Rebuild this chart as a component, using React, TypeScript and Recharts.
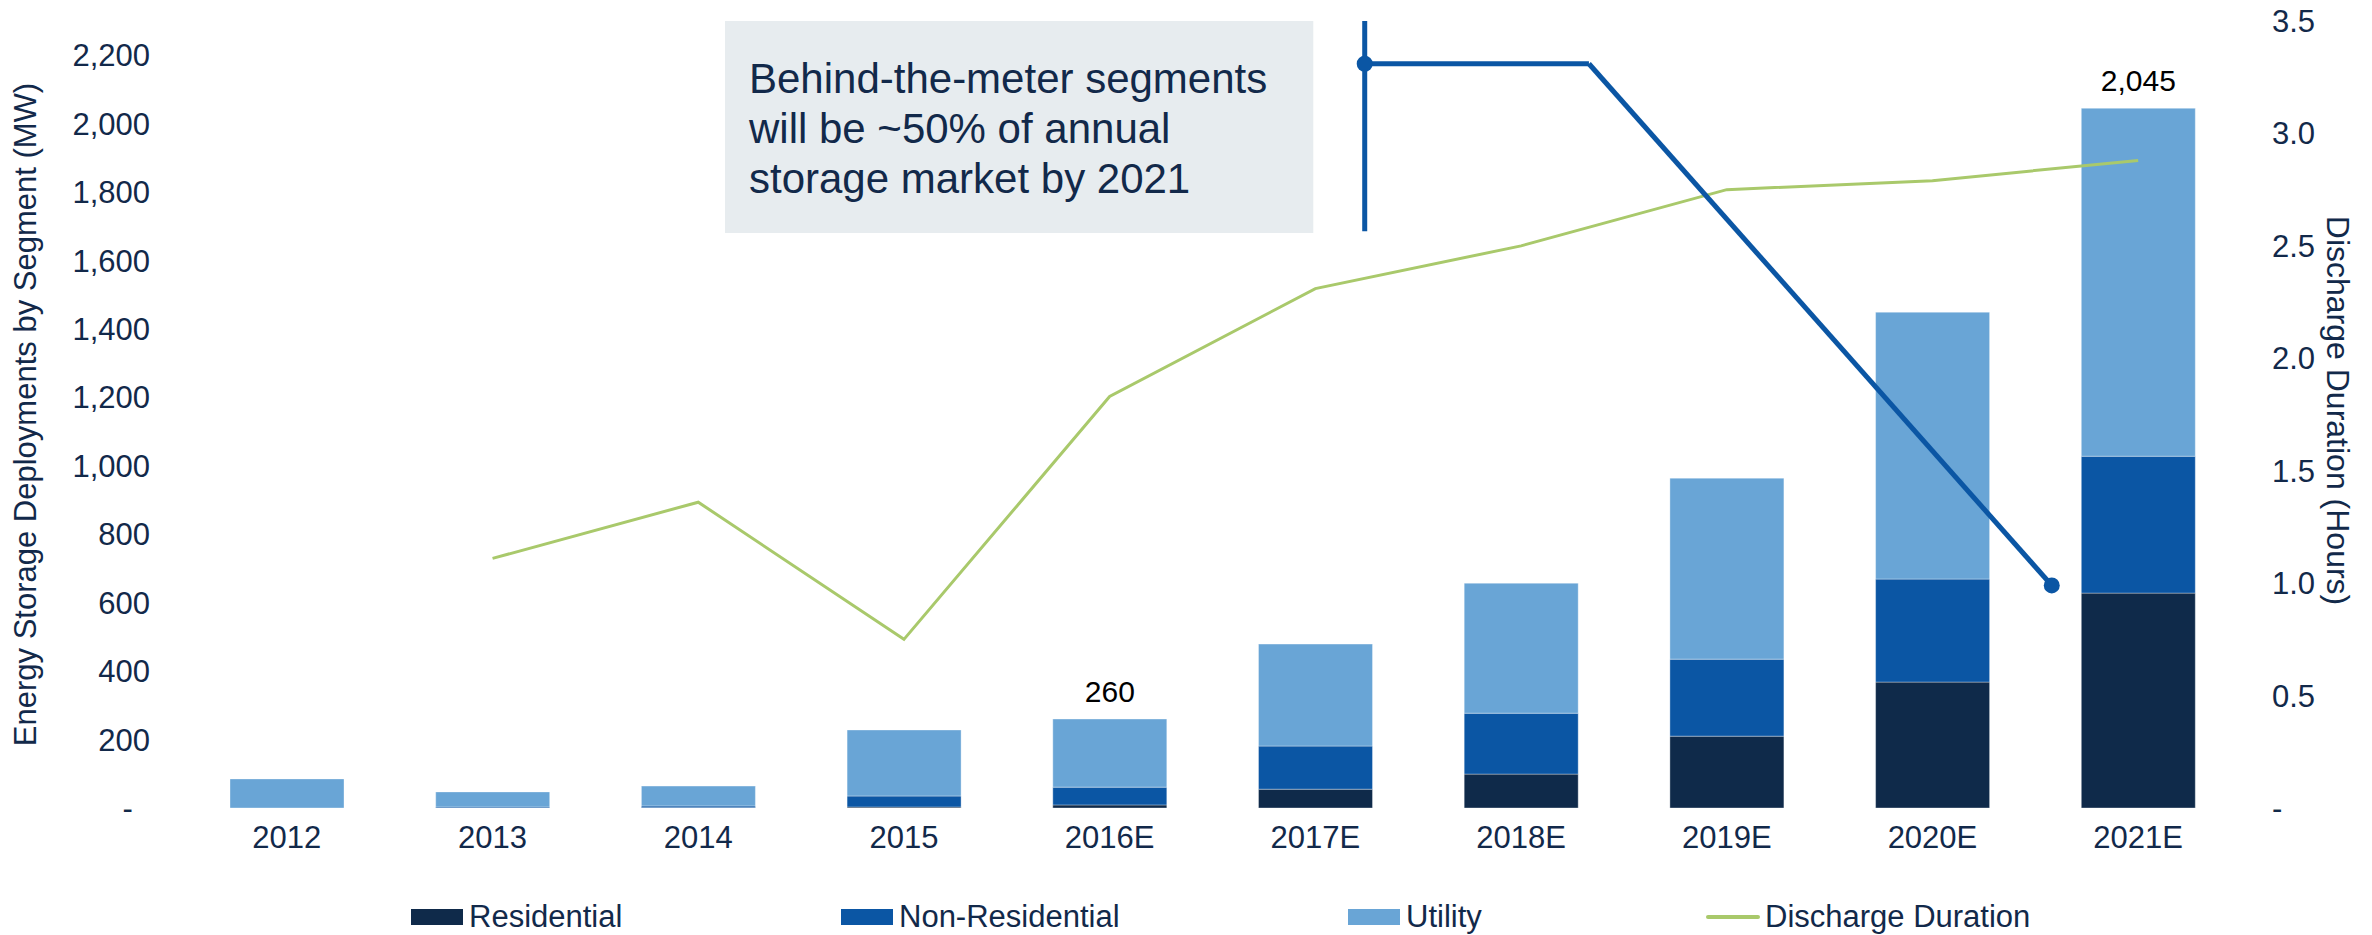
import React from "react"
import {
  ComposedChart,
  Bar,
  Line,
  XAxis,
  YAxis,
  Legend,
  LabelList,
  ReferenceLine,
  ReferenceDot,
  ReferenceArea,
} from "recharts"

const years = ["2012", "2013", "2014", "2015", "2016E", "2017E", "2018E", "2019E", "2020E", "2021E"]
const residential = [0, 0, 1, 3, 9, 55, 99, 210, 368, 628]
const nonResidential = [0, 3, 5, 32, 52, 126, 178, 225, 301, 400]
const utility = [85, 44, 58, 193, 199, 298, 380, 529, 780, 1017]
const dischargeDuration = [null, 1.11, 1.36, 0.75, 1.83, 2.31, 2.5, 2.75, 2.79, 2.88]
const totalLabels = [null, null, null, null, 260, null, null, null, null, 2045]

const leftTicks = [0, 200, 400, 600, 800, 1000, 1200, 1400, 1600, 1800, 2000, 2200]
const rightTicks = [0, 0.5, 1, 1.5, 2, 2.5, 3, 3.5]

const calloutLines = ["Behind-the-meter segments", "will be ~50% of annual", "storage market by 2021"]

const legendItems = [
  { name: "Residential", color: "#0F2A4A", kind: "box" },
  { name: "Non-Residential", color: "#0B56A4", kind: "box" },
  { name: "Utility", color: "#69A5D6", kind: "box" },
  { name: "Discharge Duration", color: "#A9C96B", kind: "line" },
]

const chartData = years.map((year, i) => ({
  year,
  idx: i,
  residential: residential[i],
  nonResidential: nonResidential[i],
  utility: utility[i],
  duration: dischargeDuration[i],
  total: totalLabels[i],
}))

const FONT = '"Liberation Sans", Arial, sans-serif'
const NAVY = "#12294A"
const CALLOUT_BLUE = "#0B56A4"

const App = () => {
  const legendLefts = [411, 841, 1348, 1706]

  const renderLegend = () => (
    <div style={{ position: "relative", width: 2372, height: 40, fontFamily: FONT, fontSize: 31, color: NAVY }}>
      {legendItems.map((item, i) => (
        <div
          key={item.name}
          style={{ position: "absolute", left: legendLefts[i], top: 0, height: 40, display: "flex", alignItems: "center", whiteSpace: "nowrap" }}
        >
          {item.kind === "box" ? (
            <span style={{ display: "inline-block", width: 52, height: 16, background: item.color, marginRight: 6 }} />
          ) : (
            <span style={{ display: "inline-block", width: 54, height: 4, borderRadius: 2, background: item.color, marginRight: 5 }} />
          )}
          <span style={{ lineHeight: "40px" }}>{item.name}</span>
        </div>
      ))}
    </div>
  )

  const leftTitle = (props: any) => {
    const vb = props.viewBox || {}
    const cy = vb.y + vb.height / 2
    return (
      <text x={36} y={cy} transform={`rotate(-90, 36, ${cy})`} textAnchor="middle" fill={NAVY} fontSize={31} fontFamily={FONT}>
        Energy Storage Deployments by Segment (MW)
      </text>
    )
  }

  const rightTitle = (props: any) => {
    const vb = props.viewBox || {}
    const cx = vb.x + 86
    const cy = vb.y + vb.height / 2 - 4
    return (
      <text x={cx} y={cy} transform={`rotate(90, ${cx}, ${cy})`} textAnchor="middle" fill={NAVY} fontSize={32} fontFamily={FONT}>
        Discharge Duration (Hours)
      </text>
    )
  }

  const calloutText = (props: any) => {
    const vb = props.viewBox || {}
    return (
      <text x={vb.x + 24} y={vb.y} fill={NAVY} fontSize={42} fontFamily={FONT}>
        {calloutLines.map((line, i) => (
          <tspan key={i} x={vb.x + 24} y={vb.y + 72 + i * 50}>
            {line}
          </tspan>
        ))}
      </text>
    )
  }

  const totalLabel = (props: any) => {
    const { x, y, width, value } = props
    if (value == null) return null
    return (
      <text x={Number(x) + Number(width) / 2} y={Number(y) - 17} textAnchor="middle" fill="#000000" fontSize={30} fontFamily={FONT}>
        {Number(value).toLocaleString("en-US")}
      </text>
    )
  }

  return (
    <div style={{ position: "absolute", left: 0, top: 0, width: 2372, height: 935, background: "#ffffff", fontFamily: FONT }}>
      <ComposedChart width={2372} height={935} data={chartData} margin={{ top: 21, right: 0, left: 0, bottom: 67 }} barSize={114}>
        <XAxis
          dataKey="year"
          height={60}
          axisLine={false}
          tickLine={false}
          tickSize={0}
          tickMargin={18}
          interval={0}
          tick={{ fill: NAVY, fontSize: 31, fontFamily: FONT }}
        />
        {/* hidden numeric axis so the callout can sit between categories */}
        <XAxis xAxisId="pos" dataKey="idx" type="number" domain={[-0.5, 9.5]} allowDataOverflow hide />
        <YAxis
          yAxisId="left"
          width={184}
          domain={[0, 2300]}
          ticks={leftTicks}
          interval={0}
          axisLine={false}
          tickLine={false}
          tickSize={0}
          tickMargin={34}
          tick={{ fill: NAVY, fontSize: 31, fontFamily: FONT }}
          tickFormatter={(v: number) => (v === 0 ? "-\u00A0\u00A0" : v.toLocaleString("en-US"))}
          label={leftTitle}
        />
        <YAxis
          yAxisId="right"
          orientation="right"
          width={131}
          domain={[0, 3.5]}
          ticks={rightTicks}
          interval={0}
          axisLine={false}
          tickLine={false}
          tickSize={0}
          tickMargin={31}
          tick={{ fill: NAVY, fontSize: 31, fontFamily: FONT }}
          tickFormatter={(v: number) => (v === 0 ? "-" : v.toFixed(1))}
          label={rightTitle}
        />
        <Legend layout="horizontal" verticalAlign="middle" align="center" wrapperStyle={{ top: 897, left: 0, width: 2372, height: 40 }} content={renderLegend} />

        <ReferenceArea
          xAxisId="pos"
          yAxisId="right"
          x1={2.13}
          x2={4.99}
          y1={2.557}
          y2={3.5}
          fill="#E7ECEF"
          fillOpacity={1}
          stroke="none"
          ifOverflow="visible"
          label={calloutText}
        />

        <Bar yAxisId="left" dataKey="residential" name="Residential" stackId="a" fill="#0F2A4A" stroke="#ffffff" strokeOpacity={0.35} strokeWidth={1} isAnimationActive={false} />
        <Bar yAxisId="left" dataKey="nonResidential" name="Non-Residential" stackId="a" fill="#0B56A4" stroke="#ffffff" strokeOpacity={0.35} strokeWidth={1} isAnimationActive={false} />
        <Bar yAxisId="left" dataKey="utility" name="Utility" stackId="a" fill="#69A5D6" stroke="#ffffff" strokeOpacity={0.35} strokeWidth={1} isAnimationActive={false}>
          <LabelList dataKey="total" content={totalLabel} />
        </Bar>
        <Line
          yAxisId="right"
          dataKey="duration"
          name="Discharge Duration"
          stroke="#A9C96B"
          strokeWidth={3}
          dot={false}
          activeDot={false}
          isAnimationActive={false}
        />

        <ReferenceLine xAxisId="pos" yAxisId="right" segment={[{ x: 5.24, y: 2.565 }, { x: 5.24, y: 3.5 }]} stroke={CALLOUT_BLUE} strokeWidth={5} ifOverflow="visible" />
        <ReferenceLine xAxisId="pos" yAxisId="right" segment={[{ x: 5.24, y: 3.31 }, { x: 6.33, y: 3.31 }]} stroke={CALLOUT_BLUE} strokeWidth={5} ifOverflow="visible" />
        <ReferenceLine xAxisId="pos" yAxisId="right" segment={[{ x: 6.33, y: 3.31 }, { x: 8.58, y: 0.99 }]} stroke={CALLOUT_BLUE} strokeWidth={5} ifOverflow="visible" />
        <ReferenceDot xAxisId="pos" yAxisId="right" x={5.24} y={3.31} r={8} fill={CALLOUT_BLUE} stroke="none" ifOverflow="visible" />
        <ReferenceDot xAxisId="pos" yAxisId="right" x={8.58} y={0.99} r={8} fill={CALLOUT_BLUE} stroke="none" ifOverflow="visible" />
      </ComposedChart>
    </div>
  )
}

export default App
